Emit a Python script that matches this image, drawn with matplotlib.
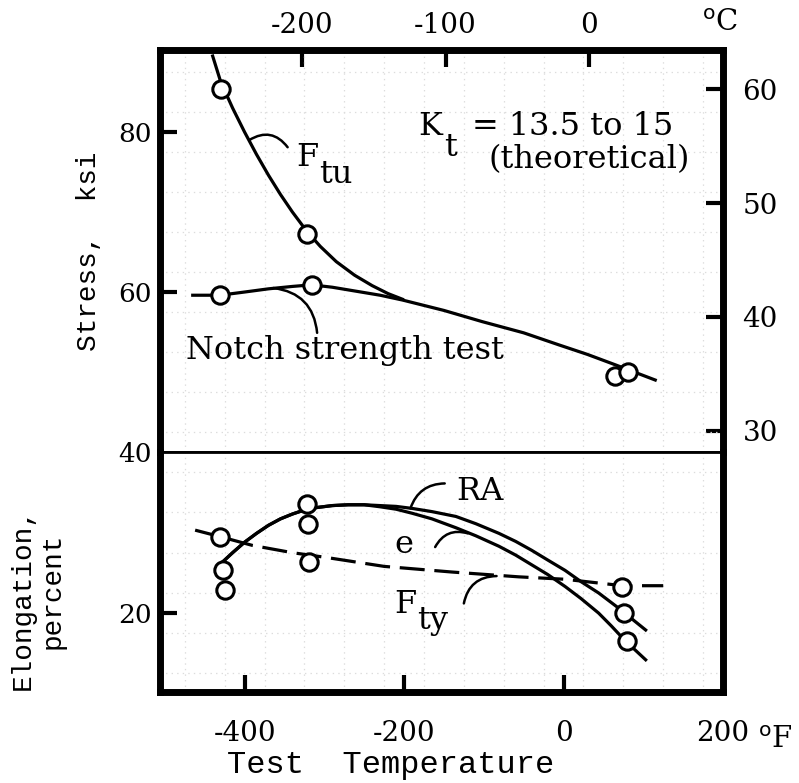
import matplotlib
matplotlib.use('Agg')
import matplotlib.pyplot as plt
import numpy as np

plt.rcParams['lines.scale_dashes'] = False
plt.rcParams['axes.unicode_minus'] = False

# --- top panel: stress (ksi) vs test temperature (deg F) ---
ftu_curve_t = [-440, -430, -415, -400, -385, -370, -355, -340, -322, -305, -285, -262, -240, -220, -202]
ftu_curve_s = [89.5, 86.3, 83.0, 80.0, 77.2, 74.6, 72.2, 70.0, 67.6, 65.7, 63.8, 62.1, 60.8, 59.8, 59.1]
notch_curve_t = [-465, -431, -400, -370, -340, -316, -290, -260, -230, -202, -150, -102, -50, -6, 30, 65, 115]
notch_curve_s = [59.6, 59.6, 60.0, 60.4, 60.7, 60.9, 60.6, 60.1, 59.6, 59.0, 57.7, 56.3, 54.9, 53.4, 52.2, 50.9, 49.0]
ftu_t = [-430, -322]
ftu_s = [85.4, 67.3]
notch_t = [-431, -316, 65, 81]
notch_s = [59.6, 60.9, 49.5, 50.0]

# --- bottom panel: elongation (percent) ---
rise_t = [-427, -415, -400, -385, -370, -355, -340, -325, -310, -290, -270, -250]
rise_e = [26.4, 27.5, 28.8, 29.9, 30.9, 31.7, 32.3, 32.8, 33.1, 33.35, 33.45, 33.45]
ra_fall_t = [-230, -210, -190, -165, -135, -110, -81, -60, -40, -20, 2, 22, 44, 60, 72, 88, 103]
ra_fall_e = [33.35, 33.25, 33.0, 32.6, 32.0, 31.1, 29.9, 28.9, 27.8, 26.6, 25.3, 23.9, 22.5, 21.3, 20.4, 19.1, 17.9]
e_fall_t = [-230, -210, -190, -165, -135, -110, -81, -60, -40, -20, 2, 22, 44, 60, 77, 90, 103]
e_fall_e = [33.2, 32.9, 32.4, 31.7, 30.6, 29.6, 28.3, 27.2, 26.0, 24.8, 23.3, 21.8, 20.0, 18.4, 16.6, 15.4, 14.2]
fty_curve_t = [-462, -431, -390, -340, -297, -225, -140, -56, 2, 74, 125]
fty_curve_e = [30.3, 29.5, 28.4, 27.5, 26.9, 25.8, 25.1, 24.5, 24.2, 23.4, 23.4]
ra_t = [-427, -322, 76]
ra_e = [25.3, 33.6, 20.0]
e_t = [-425, -321, 79]
e_e = [22.9, 31.1, 16.5]
fty_t = [-431, -319, 73]
fty_e = [29.5, 26.4, 23.3]

f_ticks = [-400, -200, 0, 200]
c_ticks = [-200, -100, 0]
ksi_ticks = [40, 60, 80]
kg_ticks = [30, 40, 50, 60]
el_ticks = [20]

fig = plt.figure(figsize=(7.99, 7.83), dpi=100)
L, W = 0.2003, 0.7046
ax1 = fig.add_axes([L, 0.4227, W, 0.5134])
ax2 = fig.add_axes([L, 0.1162, W, 0.3065])

serif = 'DejaVu Serif'
mono = 'Liberation Mono'
tfs = 19
afs = 23
lw = 2.3
mk = dict(marker='o', ms=12.5, mfc='white', mec='black', mew=2.2, ls='none', zorder=5)
leader = dict(arrowstyle='-', lw=1.8, shrinkA=0, shrinkB=0)

# faint graph-paper background
for ax in (ax1, ax2):
    ax.set_xticks(np.arange(-475, 200, 50), minor=True)
    ax.grid(which='minor', color='#dcdcdc', ls=(0, (1, 3)), lw=0.9)
    ax.set_axisbelow(True)
ax1.set_yticks(np.arange(42.5, 90, 5), minor=True)
ax2.set_yticks(np.arange(12.5, 40, 5), minor=True)

# top panel
ax1.plot(ftu_curve_t, ftu_curve_s, color='black', lw=lw)
ax1.plot(notch_curve_t, notch_curve_s, color='black', lw=lw)
ax1.plot(ftu_t, ftu_s, **mk)
ax1.plot(notch_t, notch_s, **mk)
ax1.set_xlim(-506, 200)
ax1.set_ylim(40, 90.25)
ax1.set_yticks(ksi_ticks)

# top axis in deg C, drawn on the deg F scale
ax1.set_xticks([c * 1.8 + 32 for c in c_ticks])
ax1.set_xticklabels([str(c) for c in c_ticks], family=serif)
ax1.tick_params(axis='x', which='both', bottom=False, labelbottom=False)
ax1.tick_params(axis='x', which='major', top=True, labeltop=True, direction='in',
                length=12, width=3, labelsize=20, pad=8)
ax1.tick_params(axis='x', which='minor', top=False)
ax1.tick_params(axis='y', which='minor', left=False)
ax1.tick_params(axis='y', direction='in', length=12, width=3, labelsize=tfs, pad=6)
for lab in ax1.get_yticklabels():
    lab.set_family(serif)
ax1.yaxis.get_major_ticks()[0].tick1line.set_visible(False)
ax1.set_ylabel('Stress,  ksi', family=mono, fontsize=20, labelpad=12)
ax1.text(0.995, 1.032, r'$^{\rm o}$C', transform=ax1.transAxes, fontsize=21,
         family=serif, ha='center', va='bottom')

# right axis in kg/mm^2
sec_y = ax1.secondary_yaxis('right', functions=(lambda s: s * 0.70307, lambda k: k / 0.70307))
sec_y.set_yticks(kg_ticks)
sec_y.tick_params(direction='in', length=12, width=3, labelsize=20, pad=14)
for lab in sec_y.get_yticklabels():
    lab.set_family(serif)
sec_y.spines['right'].set_visible(False)

for sp in ax1.spines.values():
    sp.set_linewidth(5)
ax1.spines['bottom'].set_linewidth(2)

ax1.text(-182, 79.6, 'K', fontsize=afs, family=serif)
ax1.text(-150, 77.0, 't', fontsize=afs, family=serif)
ax1.text(-115, 79.6, '= 13.5 to 15', fontsize=afs, family=serif)
ax1.text(-94, 75.5, '(theoretical)', fontsize=afs, family=serif)
ax1.text(-335, 75.7, 'F', fontsize=afs, family=serif)
ax1.text(-306, 73.6, 'tu', fontsize=afs, family=serif)
ax1.text(-473, 51.6, 'Notch strength test', fontsize=afs, family=serif)
ax1.annotate('', xy=(-394, 79.0), xytext=(-346, 78.1),
             arrowprops=dict(connectionstyle='arc3,rad=0.45', **leader))
ax1.annotate('', xy=(-364, 60.5), xytext=(-309, 54.9),
             arrowprops=dict(connectionstyle='arc3,rad=0.4', **leader))

# bottom panel
ax2.plot(rise_t + ra_fall_t, rise_e + ra_fall_e, color='black', lw=lw)
ax2.plot(rise_t + e_fall_t, rise_e + e_fall_e, color='black', lw=lw)
ax2.plot(fty_curve_t, fty_curve_e, color='black', lw=lw, dashes=(18, 7))
ax2.plot(ra_t, ra_e, **mk)
ax2.plot(e_t, e_e, **mk)
ax2.plot(fty_t, fty_e, **mk)
ax2.set_xlim(-506, 200)
ax2.set_ylim(10.2, 40)
ax2.set_yticks(el_ticks)
ax2.set_xticks(f_ticks)
ax2.tick_params(which='minor', bottom=False, left=False)
ax2.tick_params(direction='in', length=12, width=3, labelsize=tfs)
ax2.tick_params(axis='x', pad=20, labelsize=20)
for lab in ax2.get_yticklabels():
    lab.set_family(serif)
for lab in ax2.get_xticklabels():
    lab.set_family(serif)
ax2.tick_params(axis='y', pad=6)
for sp in ax2.spines.values():
    sp.set_linewidth(5)
ax2.spines['top'].set_linewidth(2)
ax2.text(1.062, -0.2, r'$^{\rm o}$F', transform=ax2.transAxes, fontsize=21,
         family=serif, ha='left', va='center')
ax2.set_xlabel('Test  Temperature', family=mono, fontsize=23, labelpad=2, x=0.41)
fig.text(0.028, 0.235, 'Elongation,', rotation=90, family=mono, fontsize=20,
         ha='center', va='center')
fig.text(0.066, 0.245, 'percent', rotation=90, family=mono, fontsize=20,
         ha='center', va='center')

ax2.text(-135, 34.0, 'RA', fontsize=afs, family=serif)
ax2.text(-212, 27.45, 'e', fontsize=afs, family=serif)
ax2.text(-212, 20.0, 'F', fontsize=afs, family=serif)
ax2.text(-184, 18.0, 'ty', fontsize=afs, family=serif)
ax2.annotate('', xy=(-192, 33.0), xytext=(-149, 36.1),
             arrowprops=dict(connectionstyle='arc3,rad=0.35', **leader))
ax2.annotate('', xy=(-120, 29.9), xytext=(-161, 28.2),
             arrowprops=dict(connectionstyle='arc3,rad=-0.4', **leader))
ax2.annotate('', xy=(-84, 24.6), xytext=(-125, 21.2),
             arrowprops=dict(connectionstyle='arc3,rad=-0.4', **leader))

fig.savefig('out.png', dpi=100)
